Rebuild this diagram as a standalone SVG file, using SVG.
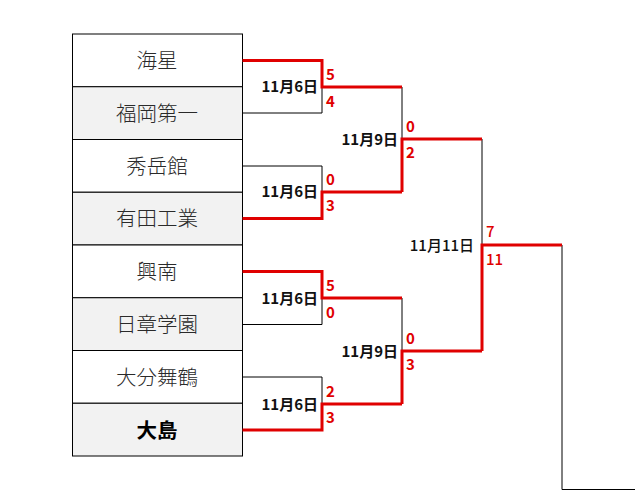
<svg xmlns="http://www.w3.org/2000/svg" width="635" height="491" viewBox="0 0 635 491">
<style>
.box{stroke:#000;stroke-width:1;}
.w{fill:#fff;}
.g{fill:#f2f2f2;}
.team{font-family:"Noto Sans CJK JP","Noto Sans",sans-serif;font-size:20.5px;fill:#2a2a2a;text-anchor:middle;dominant-baseline:central;font-weight:300;}
.win{font-weight:bold;fill:#000;}
.lose{fill:none;stroke:#000;stroke-width:1;}
.wl{fill:none;stroke:#e00000;stroke-width:3;stroke-linejoin:miter;}
.date{font-family:"Noto Sans CJK JP","Noto Sans",sans-serif;font-size:15px;font-weight:bold;fill:#111;text-anchor:end;dominant-baseline:central;}
.dr{font-weight:500;}
.sc{font-family:"Noto Sans CJK JP","Noto Sans",sans-serif;font-size:15px;font-weight:bold;fill:#e00000;dominant-baseline:central;}
.scr{font-weight:500;}
</style>
<rect x="0" y="0" width="635" height="491" fill="#fff"/>
<g id="team-kaisei"><rect class="box w" x="72.5" y="34" width="170" height="52.75"/><text class="team" x="157" y="59">海星</text></g>
<g id="team-fukuokadaiichi"><rect class="box g" x="72.5" y="86.75" width="170" height="52.75"/><text class="team" x="157" y="111.5">福岡第一</text></g>
<g id="team-shugakukan"><rect class="box w" x="72.5" y="139.5" width="170" height="52.75"/><text class="team" x="157" y="164.5">秀岳館</text></g>
<g id="team-aritakogyo"><rect class="box g" x="72.5" y="192.25" width="170" height="52.75"/><text class="team" x="157" y="217">有田工業</text></g>
<g id="team-konan"><rect class="box w" x="72.5" y="245" width="170" height="52.75"/><text class="team" x="157" y="270">興南</text></g>
<g id="team-nissho"><rect class="box g" x="72.5" y="297.75" width="170" height="52.75"/><text class="team" x="157" y="323">日章学園</text></g>
<g id="team-oitamaizuru"><rect class="box w" x="72.5" y="350.5" width="170" height="52.75"/><text class="team" x="157" y="375.5">大分舞鶴</text></g>
<g id="team-oshima"><rect class="box g" x="72.5" y="403.25" width="170" height="52.75"/><text class="team win" x="157" y="428.5">大島</text></g>
<g id="connectors">
<path class="lose" d="M242.5,113 H322 V87"/>
<path class="lose" d="M242.5,166 H322 V192"/>
<path class="lose" d="M242.5,324.5 H322 V298"/>
<path class="lose" d="M242.5,377 H322 V404"/>
<path class="lose" d="M402,87 V139"/>
<path class="lose" d="M402,298 V351"/>
<path class="lose" d="M482,139 V245"/>
<path class="lose" d="M562,245 V489.5 H635"/>
<path class="wl" d="M242.5,60.5 H322 V87 H402"/>
<path class="wl" d="M242.5,218.5 H322 V192 H402"/>
<path class="wl" d="M242.5,271.5 H322 V298 H402"/>
<path class="wl" d="M242.5,430 H322 V404 H402"/>
<path class="wl" d="M402,192 V139 H482"/>
<path class="wl" d="M402,404 V351 H482"/>
<path class="wl" d="M482,351 V245 H562"/>
</g>
<g id="labels">
<text class="date" x="318" y="85.5">11月6日</text>
<text class="sc" x="326" y="73">5</text>
<text class="sc" x="326" y="100">4</text>
<text class="date" x="318" y="190">11月6日</text>
<text class="sc" x="326" y="178">0</text>
<text class="sc" x="326" y="204">3</text>
<text class="date" x="318" y="297">11月6日</text>
<text class="sc" x="326" y="284">5</text>
<text class="sc" x="326" y="311">0</text>
<text class="date" x="318" y="403">11月6日</text>
<text class="sc" x="326" y="390">2</text>
<text class="sc" x="326" y="416">3</text>
<text class="date" x="398" y="138">11月9日</text>
<text class="sc" x="406" y="125">0</text>
<text class="sc" x="406" y="151.5">2</text>
<text class="date" x="398" y="350">11月9日</text>
<text class="sc" x="406" y="337">0</text>
<text class="sc" x="406" y="363.5">3</text>
<text class="date dr" x="474" y="244">11月11日</text>
<text class="sc scr" x="486" y="230.5">7</text>
<text class="sc scr" x="486" y="258">11</text>
</g>
</svg>
